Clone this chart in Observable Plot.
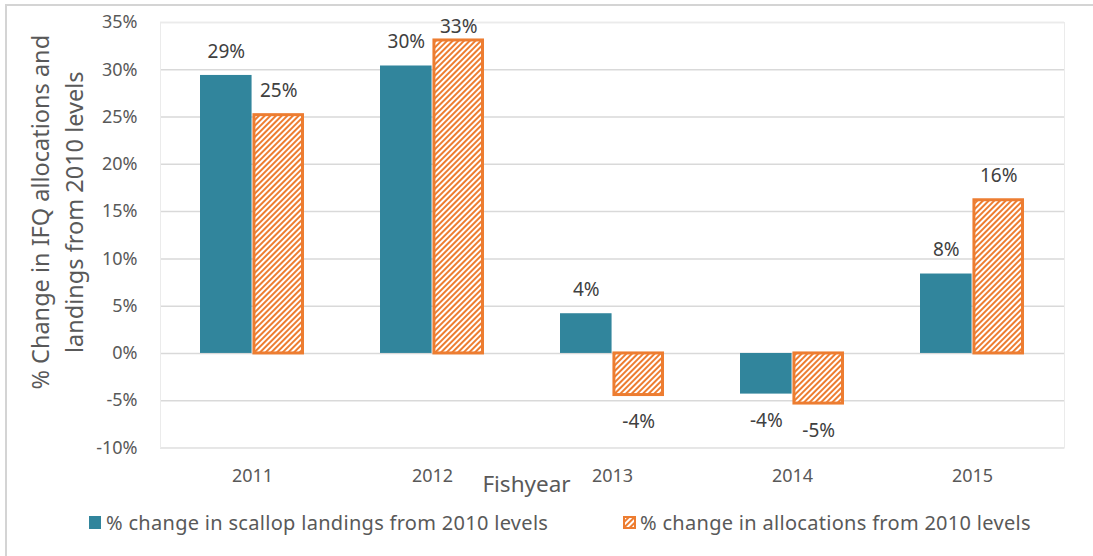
<!DOCTYPE html>
<html>
<head>
<meta charset="utf-8">
<script src="https://cdn.jsdelivr.net/npm/d3@7"></script>
<script src="https://cdn.jsdelivr.net/npm/@observablehq/plot@0.6"></script>
<style>
  body { margin: 0; background: #fff; font-family: "Noto Sans", sans-serif; color: #595959; }
  #wrap { position: relative; width: 1093px; height: 556px; overflow: hidden; }
  #border { position: absolute; left: 5px; top: 4px; width: 1200px; height: 700px; border: 2px solid #d4d4d4; }
  #chart { position: relative; }
  #legend { position: relative; height: 56px; font-size: 20px; letter-spacing: 0.3px; }
  .item { position: absolute; top: 9px; display: flex; align-items: center; gap: 4px; white-space: nowrap; }
</style>
</head>
<body>
<div id="wrap">
  <div id="border"></div>
  <div id="chart"></div>
  <div id="legend"></div>
</div>
<script>
// Fishing years and percent change from 2010 levels
const years = ["2011", "2012", "2013", "2014", "2015"];
const landings = [29.4, 30.4, 4.2, -4.3, 8.4];
const allocations = [25.2, 33.1, -4.4, -5.3, 16.2];
const seriesNames = [
  "% change in scallop landings from 2010 levels",
  "% change in allocations from 2010 levels"
];
const yTicks = [-10, -5, 0, 5, 10, 15, 20, 25, 30, 35];
const yTitle = "% Change in IFQ allocations and\nlandings from 2010 levels";
const xTitle = "Fishyear";

const teal = "#31859c";
const orange = "#ed7d31";

// Layout
const W = 1093, H = 500;
const mL = 160, mR = 29, mT = 22, mB = H - 447.5;
const padInner = 0.42;
const step = (W - mL - mR) / years.length;
const bandwidth = step * (1 - padInner);
const half = bandwidth / 2;

const rows = years.flatMap((year, i) => [
  {year, series: seriesNames[0], value: landings[i]},
  {year, series: seriesNames[1], value: allocations[i]}
]);
const L = rows.filter(d => d.series === seriesNames[0]);
const A = rows.filter(d => d.series === seriesNames[1]);

const pct = v => `${Math.round(v)}%`;
// keep labels of the tallest bars inside the plot area
const labelY = d => Math.min(d.value, 32);

function labels(data, dx) {
  const common = {x: "year", text: d => pct(d.value), dx, fontSize: 19, fill: "#404040"};
  return [
    Plot.text(data.filter(d => d.value >= 0), {...common, y: labelY, dy: -24}),
    Plot.text(data.filter(d => d.value < 0), {...common, y: "value", dy: 27})
  ];
}

const plot = Plot.plot({
  width: W,
  height: H,
  marginLeft: mL,
  marginRight: mR,
  marginTop: mT,
  marginBottom: mB,
  style: {fontFamily: "'Noto Sans', sans-serif", fontSize: "18px", color: "#595959", background: "transparent"},
  x: {domain: years, paddingInner: padInner, paddingOuter: padInner / 2, tickSize: 0, tickPadding: 21, label: null},
  y: {domain: [-10, 35], ticks: yTicks, tickSize: 0, tickPadding: 23, tickFormat: d => `${d}%`, label: null},
  marks: [
    Plot.ruleY(yTicks, {stroke: "#d9d9d9", strokeWidth: 1.5}),
    Plot.frame({stroke: "#ebebeb"}),
    Plot.barY(L, {x: "year", y: "value", fill: teal, insetRight: half}),
    Plot.barY(A, {x: "year", y: "value", fill: "url(#hatch)", stroke: orange, strokeWidth: 3,
                  insetLeft: half + 1.5, insetRight: 1.5}),
    ...labels(L, -half / 2),
    ...labels(A, half / 2),
    Plot.text([xTitle], {frameAnchor: "bottom", dx: -86, dy: 44, fontSize: 22.5, fill: "#595959"}),
    Plot.text([yTitle], {frameAnchor: "left", dx: -105, dy: -23, rotate: -90, fontSize: 23.5,
                         textAnchor: "middle", lineAnchor: "middle",
                         lineHeight: 1.45, fill: "#595959"})
  ]
});

// diagonal hatch used by the allocation bars
function addHatch(svg, id) {
  const defs = d3.select(svg).insert("defs", ":first-child");
  const p = defs.append("pattern")
    .attr("id", id)
    .attr("patternUnits", "userSpaceOnUse")
    .attr("width", 4).attr("height", 4)
    .attr("patternTransform", "rotate(45)");
  p.append("rect").attr("width", 4).attr("height", 4).attr("fill", "#fff");
  p.append("rect").attr("width", 2).attr("height", 4).attr("fill", orange);
}
addHatch(plot, "hatch");
document.getElementById("chart").append(plot);

// Legend
const legend = d3.select("#legend");
const positions = [89, 623];
seriesNames.forEach((name, i) => {
  const item = legend.append("div").attr("class", "item").style("left", positions[i] + "px");
  const sw = item.append("svg").attr("width", 13).attr("height", 13);
  if (i === 0) {
    sw.append("rect").attr("width", 12).attr("height", 13).attr("fill", teal);
  } else {
    sw.append("rect").attr("x", 1).attr("y", 1).attr("width", 11).attr("height", 11)
      .attr("fill", "url(#hatch)").attr("stroke", orange).attr("stroke-width", 2);
  }
  item.append("span").text(name);
});
</script>
</body>
</html>
